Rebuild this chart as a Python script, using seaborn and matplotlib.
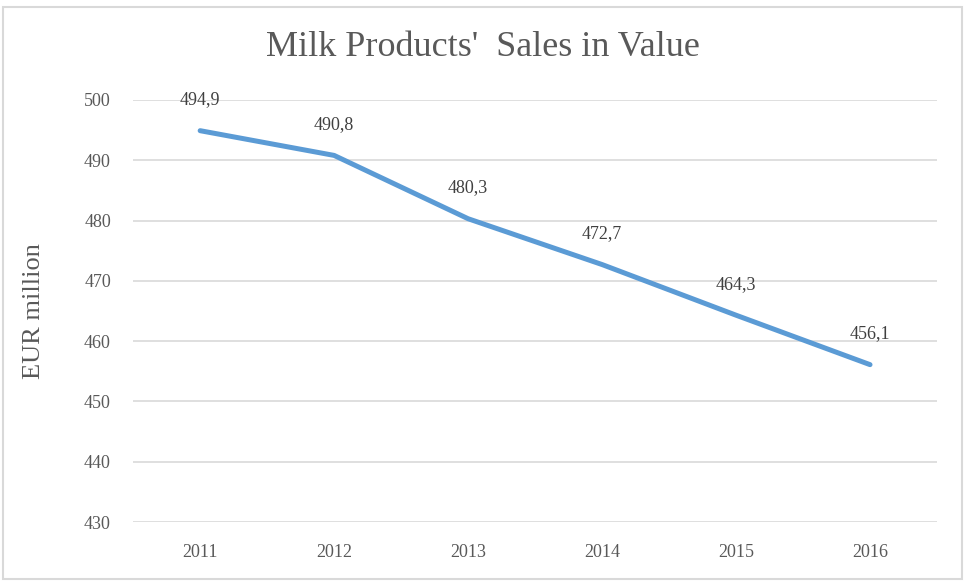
import matplotlib
matplotlib.use("Agg")
import matplotlib.pyplot as plt
import seaborn as sns
import pandas as pd

# datos
years = ["2011", "2012", "2013", "2014", "2015", "2016"]
sales = [494.9, 490.8, 480.3, 472.7, 464.3, 456.1]
labels = ["494,9", "490,8", "480,3", "472,7", "464,3", "456,1"]
y_ticks = [430, 440, 450, 460, 470, 480, 490, 500]

df = pd.DataFrame({"year": years, "sales": sales})

sns.set_style("white")
plt.rcParams["font.family"] = ["Liberation Serif", "DejaVu Serif"]
text_color = "#595959"

fig = plt.figure(figsize=(9.65, 5.81), dpi=100)
ax = fig.add_axes([0.138, 0.1015, 0.833, 0.7265])

sns.lineplot(data=df, x="year", y="sales", ax=ax, color="#5B9BD5",
             linewidth=3.6, sort=False)

for i, (v, t) in enumerate(zip(sales, labels)):
    ax.annotate(t, (i, v), xytext=(0, 16), textcoords="offset points",
                ha="center", va="bottom", fontsize=13, color="#404040")

ax.set_xlim(-0.5, len(years) - 0.5)
ax.set_ylim(430, 500)
ax.set_yticks(y_ticks)
ax.grid(axis="y", color="#D9D9D9", linewidth=1.2)
ax.set_axisbelow(True)
for s in ax.spines.values():
    s.set_visible(False)
ax.tick_params(axis="x", length=0, labelsize=13, labelcolor=text_color, pad=16)
ax.tick_params(axis="y", length=0, labelsize=13, labelcolor=text_color, pad=16)
ax.set_xlabel("")
ax.set_ylabel("EUR million", fontsize=19, color=text_color, labelpad=28)

fig.text(0.5, 0.919, "Milk Products'  Sales in Value", ha="center", va="center",
         fontsize=26, color=text_color)

# borde del gráfico
rect = plt.Rectangle((0.003, 0.003), 0.994, 0.985, transform=fig.transFigure,
                     fill=False, edgecolor="#D9D9D9", linewidth=1.5)
fig.patches.append(rect)

fig.savefig("out.png", dpi=100)
